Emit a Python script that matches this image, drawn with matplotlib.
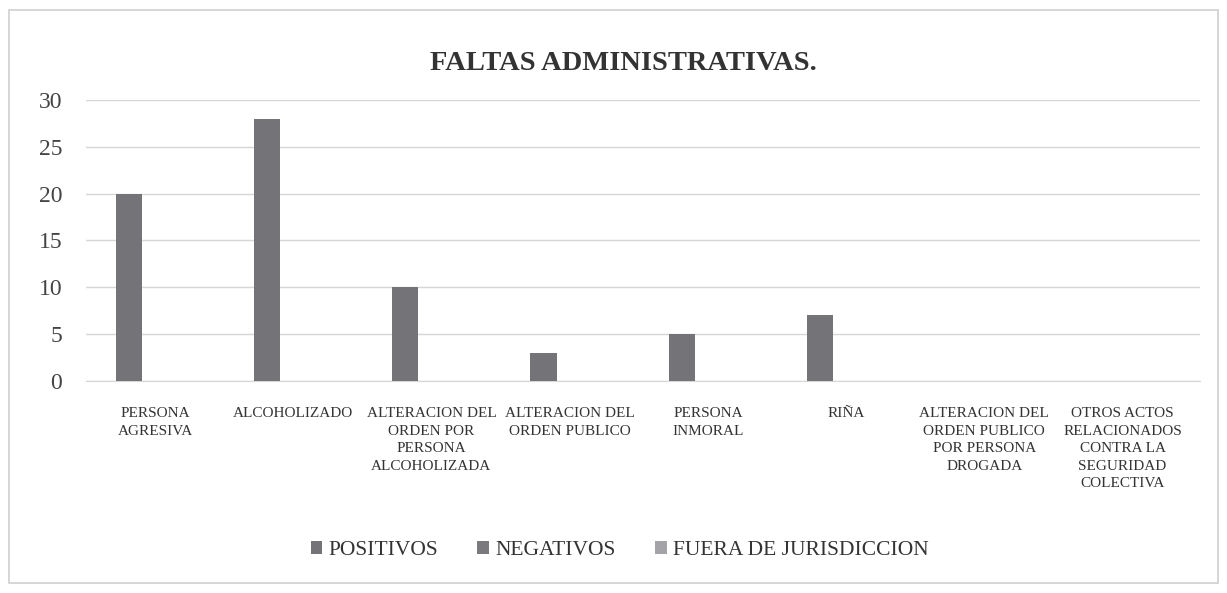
import matplotlib
matplotlib.use("Agg")
import matplotlib.pyplot as plt
import numpy as np
from matplotlib.patches import Rectangle

categories = [
    "PERSONA\nAGRESIVA",
    "ALCOHOLIZADO",
    "ALTERACION DEL\nORDEN POR\nPERSONA\nALCOHOLIZADA",
    "ALTERACION DEL\nORDEN PUBLICO",
    "PERSONA\nINMORAL",
    "RIÑA",
    "ALTERACION DEL\nORDEN PUBLICO\nPOR PERSONA\nDROGADA",
    "OTROS ACTOS\nRELACIONADOS\nCONTRA LA\nSEGURIDAD\nCOLECTIVA",
]
positivos = [20, 28, 10, 3, 5, 7, 0, 0]
negativos = [0, 0, 0, 0, 0, 0, 0, 0]
fuera = [0, 0, 0, 0, 0, 0, 0, 0]
series_names = ["POSITIVOS", "NEGATIVOS", "FUERA DE JURISDICCION"]
colors = ["#737378", "#7a7a7e", "#a4a4a8"]
yticks = [0, 5, 10, 15, 20, 25, 30]

plt.rcParams['font.family'] = ['Liberation Serif', 'DejaVu Serif']

fig = plt.figure(figsize=(12.27, 5.93), dpi=100)
fig.patch.set_facecolor("white")
fig.add_artist(Rectangle((0.007, 0.017), 0.986, 0.966, transform=fig.transFigure,
                         fill=False, edgecolor="#cfcfcf", linewidth=1.2))

ax = fig.add_axes([0.070, 0.358, 0.908, 0.473])
x = np.arange(len(categories))
w = 0.19
for i, (vals, name, c) in enumerate(zip([positivos, negativos, fuera], series_names, colors)):
    ax.bar(x + (i - 1) * w, vals, width=w, color=c, label=name, zorder=3)

ax.set_ylim(0, 30)
ax.set_xlim(-0.5, len(categories) - 0.44)
ax.set_yticks(yticks)
ax.set_yticklabels([str(t) for t in yticks], fontsize=17, color="#444444")
ax.yaxis.grid(True, color="#d6d6d6", linewidth=1.0, zorder=0)
ax.set_axisbelow(True)
for s in ["top", "right", "left"]:
    ax.spines[s].set_visible(False)
ax.spines["bottom"].set_color("#d6d6d6")
ax.tick_params(axis="y", length=0, pad=17)
ax.tick_params(axis="x", length=0, pad=19)
ax.set_xticks(x)
ax.set_xticklabels(categories, fontsize=11, color="#333333", va="top",
                   linespacing=1.45)

fig.text(0.508, 0.893, "FALTAS ADMINISTRATIVAS.", ha="center", va="center",
         fontsize=20.5, fontweight="bold", color="#333333")

leg = fig.legend(loc="center", bbox_to_anchor=(0.505, 0.072), ncol=3, frameon=False,
                 fontsize=15.5, handlelength=0.55, handleheight=0.55, handletextpad=0.3,
                 columnspacing=1.8)
for t in leg.get_texts():
    t.set_color("#333333")

fig.savefig("out.png", dpi=100, facecolor="white")
